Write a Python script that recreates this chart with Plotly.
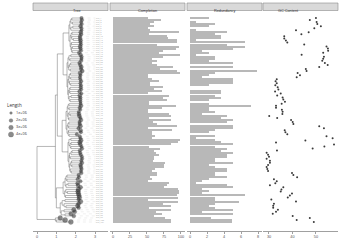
import plotly.graph_objects as go

W, H = 350, 249

# ---------------- data ----------------
tree_newick = (
    "(((("
    # D1
    "((((:0.5,:0.52):0.05,(:0.45,:0.48):0.08):0.05,((:0.4,:0.45):0.1,:0.55):0.05):0.05,"
    "(((:0.45,:0.47):0.05,(:0.42,(:0.35,:0.37):0.08):0.04):0.05,((:0.47,:0.49):0.03,((:0.4,:0.42):0.05,(:0.45,:0.35):0.04):0.03):0.04):0.06):0.3,"
    # D2
    "((((:0.5,:0.55):0.1,(:0.6,:0.58):0.05):0.05,(((:0.45,:0.5):0.05,:0.6):0.05,(:0.55,:0.62):0.08):0.04):0.05,"
    "((((:0.5,:0.52):0.06,(:0.48,:0.5):0.07):0.03,(:0.6,(:0.5,:0.53):0.06):0.04):0.05,(((:0.55,:0.57):0.04,(:0.5,:0.6):0.03):0.05,((:0.45,:0.48):0.1,(:0.52,:0.54):0.05):0.04):0.03):0.04):0.2"
    "):0.3,("
    # E1
    "((((:0.6,:0.62):0.05,(:0.55,:0.58):0.06):0.04,((:0.5,(:0.45,:0.47):0.06):0.05,(:0.6,:0.63):0.03):0.05):0.06,"
    "(((:0.55,:0.56):0.05,(:0.6,:0.5):0.04):0.05,((:0.62,:0.64):0.02,(:0.4,:0.55):0.05):0.06):0.05):0.2,"
    # E2
    "(((:0.5,:0.52):0.1,((:0.45,:0.48):0.05,(:0.55,:0.57):0.04):0.06):0.05,"
    "((((:0.4,:0.42):0.05,:0.5):0.08,(:0.6,:0.61):0.04):0.03,(((:0.5,:0.53):0.04,(:0.45,:0.47):0.05):0.06,(:0.58,(:0.5,:0.52):0.05):0.03):0.04):0.05):0.3"
    "):0.25):0.1,("
    # C3
    "((((:0.6,:0.62):0.05,(:0.55,:0.7):0.05):0.05,((:0.5,:0.52):0.1,:0.75):0.05):0.1,((:0.65,(:0.55,:0.57):0.08):0.06,(:0.7,:0.72):0.04):0.08):0.35,"
    # C4
    "(((:0.7,:0.8):0.15,(:0.75,(:0.6,:0.65):0.1):0.1):0.1,((:0.5,:0.55):0.15,(:0.3,:0.45):0.2):0.05):0.2"
    "):0.05):0.95,"
    # B
    "(:0.25,(:0.45,:0.75):0.05):0.95);"
)

completion = [52, 70, 60, 55, 61, 52, 54, 97, 53, 79, 81, 94, 94, 64, 97, 93, 73, 68, 98, 74,
              58, 64, 58, 65, 88, 69, 94, 98, 52, 52,
              58, 68, 54, 55, 73, 60, 72, 52, 83, 73, 80, 53, 53, 93, 72, 51, 52, 82, 85, 53,
              85, 59, 65, 94, 52, 87, 57, 57, 62, 57, 98, 95, 85, 53, 69, 61, 63, 68, 61, 60,
              59, 76, 75, 75, 62, 58, 64, 64, 54, 57, 52, 82, 79, 75, 95, 97, 97, 94, 95, 52,
              96, 74, 85, 53, 85, 63, 72, 60, 77, 85, 86]

redundancy = [2.2, 0, 0.7, 2.9, 2.2, 0, 0.7, 4.3, 2.9, 3.6, 3.6, 0.7, 6.5, 4.3, 6.5, 5.0, 1.4, 2.2, 0.7, 2.9,
              2.9, 2.2, 5.0, 0, 5.0, 0, 7.9, 2.9, 2.2, 1.4,
              5.0, 5.0, 5.0, 2.2, 0, 0, 3.6, 3.6, 2.9, 3.6, 2.2, 0, 2.2, 7.2, 2.2, 2.2, 2.9, 1.4, 4.3, 3.6,
              5.0, 4.3, 0, 5.0, 5.0, 2.9, 2.2, 0, 2.9, 0.7, 2.9, 3.6, 5.0, 2.9, 4.3, 3.6, 5.0, 4.3, 4.3, 2.9,
              2.9, 5.0, 2.2, 2.9, 4.3, 4.3, 2.9, 2.9, 4.3, 2.2, 1.4, 0.7, 4.3, 5.0, 1.4, 2.2, 1.4, 6.5, 2.9, 2.9,
              5.8, 2.9, 2.2, 2.9, 5.0, 1.4, 5.0, 0, 2.5, 4.9, 4.9]

gc_content = [50.0, 47.4, 50.3, 50.6, 52.1, 49.3, 41.5, 46.9, 43.8, 36.5, 36.5, 37.2, 37.8, 45.0, 54.5,
              55.1, 55.2, 53.1, 43.9, 53.4, 53.1, 52.7, 53.8, 55.0, 51.4, 45.7, 46.0, 42.2, 43.2, 41.8,
              33.3, 32.8, 33.3, 32.7, 33.7, 34.0, 32.6, 35.0, 33.5, 35.8, 36.1, 36.8, 35.4, 33.0, 33.0,
              35.5, 35.8, 35.7, 30.1, 33.5, 39.4, 40.1, 40.4, 51.4, 53.4, 36.7, 37.0, 37.8, 54.5, 57.1,
              45.5, 33.0, 57.7, 53.6, 48.6, 33.4, 29.0, 29.6, 30.0, 29.0,
              30.4, 30.4, 29.6, 29.0, 29.3, 29.6, 39.8, 40.4, 42.0, 32.1, 33.3, 32.7, 30.4, 36.1, 35.3,
              35.0, 39.8, 38.9, 38.0, 31.0, 41.5, 32.1, 31.8, 31.8, 33.8, 33.0, 31.6, 40.1, 47.4, 41.8, 49.1]

genome_length = [1.7e6, 1.9e6, 1.5e6, 1.8e6, 2.1e6, 1.6e6, 1.4e6, 2.3e6, 2.0e6, 1.8e6, 2.2e6, 2.4e6, 1.9e6, 1.7e6, 2.5e6,
                 2.1e6, 1.8e6, 1.6e6, 2.3e6, 2.0e6, 1.5e6, 1.9e6, 1.7e6, 2.1e6, 2.4e6, 1.8e6, 2.2e6, 2.6e6, 1.4e6, 1.5e6,
                 1.6e6, 1.9e6, 1.5e6, 1.7e6, 2.0e6, 1.6e6, 2.1e6, 1.4e6, 2.3e6, 1.9e6, 2.2e6, 1.5e6, 1.6e6, 2.5e6, 2.0e6,
                 1.3e6, 1.5e6, 2.3e6, 2.4e6, 1.6e6, 2.3e6, 1.7e6, 1.9e6, 2.7e6, 1.5e6, 2.4e6, 1.6e6, 1.7e6, 1.8e6, 1.6e6,
                 2.8e6, 2.6e6, 2.3e6, 1.5e6, 2.0e6, 1.7e6, 1.8e6, 1.9e6, 1.7e6, 1.6e6,
                 1.7e6, 2.1e6, 2.2e6, 2.1e6, 1.8e6, 1.6e6, 1.9e6, 1.8e6, 1.5e6, 1.7e6, 1.6e6, 2.3e6, 2.2e6, 2.5e6, 3.1e6,
                 3.2e6, 3.0e6, 2.9e6, 3.1e6, 1.9e6, 3.3e6, 2.4e6, 2.8e6, 2.1e6, 2.9e6, 2.3e6, 2.6e6, 2.2e6, 3.2e6, 3.8e6, 3.6e6]

panel_titles = ["Tree", "Completion", "Redundancy", "GC Content"]
legend_title = "Length"
legend_values = [1e6, 2e6, 3e6, 4e6]
legend_labels = ["1e+06", "2e+06", "3e+06", "4e+06"]
tree_ticks = [0, 1, 2, 3]
comp_ticks = [0, 25, 50, 75, 100]
red_ticks = [0, 2, 4, 6, 8]
gc_ticks = [30, 40, 50]


# ---------------- tree parsing / layout ----------------
def parse_newick(s):
    pos = 0

    def node():
        nonlocal pos
        children = []
        if s[pos] == '(':
            pos += 1
            children.append(node())
            while s[pos] == ',':
                pos += 1
                children.append(node())
            pos += 1  # ')'
        start = pos
        while pos < len(s) and s[pos] not in ':,();':
            pos += 1
        name = s[start:pos]
        bl = 0.0
        if pos < len(s) and s[pos] == ':':
            pos += 1
            start = pos
            while pos < len(s) and s[pos] not in ',();':
                pos += 1
            bl = float(s[start:pos])
        return {"children": children, "bl": bl, "name": name}

    return node()


root = parse_newick(tree_newick)
tips = []


def layout(n, x0):
    n["x"] = x0 + n["bl"]
    if not n["children"]:
        tips.append(n)
        n["y"] = len(tips)
    else:
        for c in n["children"]:
            layout(c, n["x"])
        ys = [c["y"] for c in n["children"]]
        n["y"] = (min(ys) + max(ys)) / 2.0


root["bl"] = 0.0
layout(root, 0.0)
ntip = len(tips)
rows = list(range(1, ntip + 1))
tip_labels = ["bin_%d" % i for i in rows]

lx, ly = [], []


def edges(n):
    if n["children"]:
        ys = [c["y"] for c in n["children"]]
        lx.extend([n["x"], n["x"], None])
        ly.extend([min(ys), max(ys), None])
        for c in n["children"]:
            lx.extend([n["x"], c["x"], None])
            ly.extend([c["y"], c["y"], None])
            edges(c)


edges(root)

tip_x = [t["x"] for t in tips]
tip_y = [t["y"] for t in tips]


def msize(L):
    return 2.6 * (L / 1e6) ** 0.5


# ---------------- figure ----------------
def px_x(a, b):
    return [a / W, b / W]


ydom = [1 - 231 / H, 1 - 12 / H]
yrange = [105.4, -1.94]

fig = go.Figure()

TREE_COL = "#6e6e6e"
BAR_COL = "#b8b8b8"

# tree edges
fig.add_trace(go.Scatter(x=lx, y=ly, mode="lines", line=dict(color=TREE_COL, width=0.5),
                         xaxis="x", yaxis="y", hoverinfo="skip"))
# dotted alignment lines
dx, dy = [], []
for x, y in zip(tip_x, tip_y):
    dx.extend([x, 3.02, None])
    dy.extend([y, y, None])
fig.add_trace(go.Scatter(x=dx, y=dy, mode="lines", line=dict(color="#d0d0d0", width=0.35, dash="dot"),
                         xaxis="x", yaxis="y", hoverinfo="skip"))
# tip points
fig.add_trace(go.Scatter(x=tip_x, y=tip_y, mode="markers",
                         marker=dict(size=[msize(v) for v in genome_length], color="rgba(50,50,50,0.8)",
                                     line=dict(color="#222222", width=0.3)),
                         xaxis="x", yaxis="y"))
# tip labels
fig.add_trace(go.Scatter(x=[3.05] * ntip, y=tip_y, mode="text", text=tip_labels,
                         textposition="middle right", textfont=dict(size=2.2, color="#a6a6a6"),
                         xaxis="x", yaxis="y", hoverinfo="skip"))

# completion bars
fig.add_trace(go.Bar(x=completion, y=rows, orientation="h", width=0.5, marker=dict(color=BAR_COL, line=dict(width=0)),
                     xaxis="x2", yaxis="y"))
# redundancy bars
fig.add_trace(go.Bar(x=redundancy, y=rows, orientation="h", width=0.5, marker=dict(color=BAR_COL, line=dict(width=0)),
                     xaxis="x3", yaxis="y"))
# gc points
fig.add_trace(go.Scatter(x=gc_content, y=rows, mode="markers",
                         marker=dict(size=2.0, color="#3a3a3a"), xaxis="x4", yaxis="y"))

# legend drawn in a pixel-space axis at the left margin
leg_y = [113, 120.5, 127.5, 134.5]
fig.add_trace(go.Scatter(x=[11] * 4, y=leg_y, mode="markers",
                         marker=dict(size=[msize(v) for v in legend_values], color="rgba(50,50,50,0.8)",
                                     line=dict(color="#222222", width=0.3)),
                         xaxis="x5", yaxis="y5", cliponaxis=False))
fig.add_trace(go.Scatter(x=[16] * 4, y=leg_y, mode="text", text=legend_labels,
                         textposition="middle right", textfont=dict(size=3.8, color="#333333"),
                         xaxis="x5", yaxis="y5", cliponaxis=False))
fig.add_trace(go.Scatter(x=[7], y=[105.5], mode="text", text=[legend_title],
                         textposition="middle right", textfont=dict(size=4.6, color="#333333"),
                         xaxis="x5", yaxis="y5", cliponaxis=False))

axis_common = dict(showgrid=False, zeroline=False, showline=True, linecolor="#a0a0a0", linewidth=0.6,
                   ticks="outside", ticklen=2, tickwidth=0.6, tickcolor="#a0a0a0",
                   tickfont=dict(size=3.8, color="#555555", family="Liberation Sans"), anchor="y",
                   fixedrange=True)

fig.update_layout(
    width=W, height=H, margin=dict(l=0, r=0, t=0, b=0),
    paper_bgcolor="white", plot_bgcolor="rgba(0,0,0,0)", showlegend=False, bargap=0,
    xaxis=dict(domain=px_x(33, 108), range=[-0.207, 3.67], tickvals=tree_ticks, **axis_common),
    xaxis2=dict(domain=px_x(110, 185), range=[-4.4, 105.9], tickvals=comp_ticks, **axis_common),
    xaxis3=dict(domain=px_x(187, 262), range=[-0.353, 8.47], tickvals=red_ticks, **axis_common),
    xaxis4=dict(domain=px_x(263, 338), range=[27.45, 59.4], tickvals=gc_ticks, **axis_common),
    yaxis=dict(domain=ydom, range=yrange, visible=False, fixedrange=True),
    xaxis5=dict(domain=[0, 30 / W], range=[0, 30], visible=False, anchor="y5", fixedrange=True),
    yaxis5=dict(domain=[0, 1], range=[H, 0], visible=False, anchor="x5", fixedrange=True),
)

# facet strips
strips = [(33, 108), (110, 185), (187, 262), (263, 338)]
for (a, b), t in zip(strips, panel_titles):
    fig.add_shape(type="rect", xref="paper", yref="paper", x0=a / W, x1=b / W,
                  y0=1 - 10.5 / H, y1=1 - 3 / H, fillcolor="#d9d9d9",
                  line=dict(color="#8c8c8c", width=0.6), layer="above")
    fig.add_annotation(xref="paper", yref="paper", x=(a + b) / 2 / W, y=1 - 6.75 / H,
                       text=t, showarrow=False, font=dict(size=3.8, color="#333333", family="Liberation Sans"))

fig.write_html("out.html")
